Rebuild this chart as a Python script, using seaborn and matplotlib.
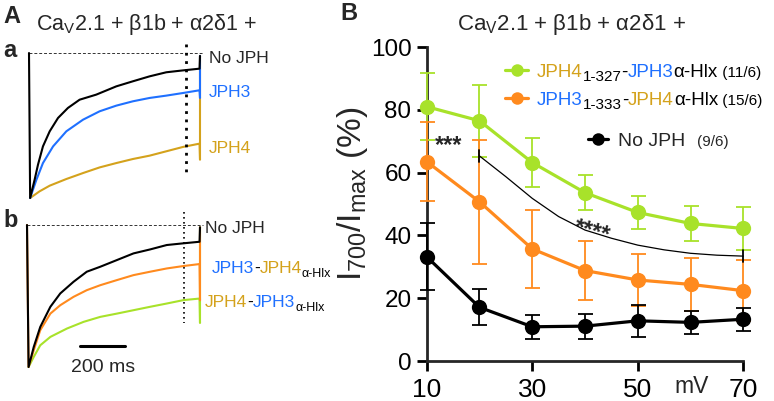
import matplotlib
matplotlib.use("Agg")
import matplotlib.pyplot as plt
import seaborn as sns

# ---- Panel A: current traces (time in ms, current normalised to peak) ----
a_black_t = [0, 5, 25, 40, 62, 92, 129, 173, 225, 299, 388, 462, 536, 610, 684, 758, 760]
a_black_i = [0, -1.0, -0.874, -0.770, -0.644, -0.540, -0.448, -0.379, -0.322, -0.287,
             -0.230, -0.195, -0.161, -0.133, -0.120, -0.108, -0.02]
a_blue_t = [5, 33, 62, 107, 166, 240, 314, 388, 462, 536, 610, 684, 758, 760, 760]
a_blue_i = [-1.0, -0.874, -0.759, -0.644, -0.540, -0.460, -0.402, -0.363, -0.333,
            -0.310, -0.294, -0.276, -0.257, -0.31, -0.02]
a_gold_t = [5, 47, 92, 166, 240, 314, 388, 462, 536, 610, 684, 758, 760, 760]
a_gold_i = [-1.0, -0.954, -0.915, -0.869, -0.828, -0.789, -0.759, -0.731, -0.708,
            -0.678, -0.648, -0.625, -0.736, -0.02]

b_black_t = [0, 7, 30, 59, 104, 148, 207, 266, 326, 400, 474, 548, 622, 696, 768, 770]
b_black_i = [0, -1.0, -0.859, -0.718, -0.576, -0.482, -0.400, -0.329, -0.294, -0.247,
             -0.200, -0.172, -0.141, -0.129, -0.118, -0.016]
b_orange_t = [0, 7, 30, 59, 104, 148, 207, 266, 326, 400, 474, 548, 622, 696, 768, 770, 770]
b_orange_i = [0, -1.0, -0.882, -0.741, -0.624, -0.565, -0.506, -0.459, -0.424, -0.388,
              -0.353, -0.329, -0.306, -0.289, -0.275, -0.53, -0.016]
b_green_t = [7, 30, 59, 104, 178, 252, 326, 400, 474, 548, 622, 696, 768, 770, 770]
b_green_i = [-1.0, -0.929, -0.847, -0.788, -0.729, -0.682, -0.647, -0.624, -0.600,
             -0.576, -0.553, -0.529, -0.518, -0.69, -0.016]

measure_ms = 700
scale_bar_ms = 200

# ---- Panel B: I700/Imax vs voltage ----
voltages = [10, 20, 30, 40, 50, 60, 70]
no_jph_mean = [33.2, 17.1, 10.9, 11.1, 12.8, 12.3, 13.3]
no_jph_err = [10.6, 5.7, 3.9, 4.0, 5.1, 3.6, 3.6]
jph3_jph4_mean = [63.5, 50.7, 35.7, 28.8, 25.8, 24.4, 22.4]
jph3_jph4_err = [12.5, 19.7, 12.4, 9.3, 8.4, 8.4, 9.7]
jph4_jph3_mean = [81.0, 76.5, 63.2, 53.6, 47.3, 43.8, 42.2]
jph4_jph3_err = [10.6, 11.4, 7.8, 5.5, 5.3, 5.6, 6.7]
sig_x = [20, 25, 30, 35, 40, 45, 50, 55, 60, 65, 70]
sig_y = [65.3, 58.7, 51.8, 46.0, 41.7, 39.1, 36.9, 35.4, 34.3, 33.7, 33.4]

GOLD = "#d4a21c"
BLUE = "#1f70ff"
ORANGE = "#ff8a1e"
LIME = "#a8e22a"

sns.set_style("ticks")
plt.rcParams['font.family'] = ['Liberation Sans', 'DejaVu Sans']
plt.rcParams['mathtext.default'] = 'regular'

W, H = 774, 401
fig = plt.figure(figsize=(W / 100, H / 100), dpi=100)


def px_axes(x0, y0, x1, y1, **kw):
    # axes from pixel box (left, top, right, bottom)
    return fig.add_axes([x0 / W, 1 - y1 / H, (x1 - x0) / W, (y1 - y0) / H], **kw)


def traces(ax, series, tmax, dot_lw, dot_top, dot_bottom):
    for t, i, c in series:
        sns.lineplot(x=t, y=i, ax=ax, color=c, lw=1.5, estimator=None, sort=False)
    ax.plot([0, tmax + 15], [0, 0], color="#333333", lw=0.7, ls=(0, (3, 2)), zorder=0)
    ax.plot([measure_ms, measure_ms], [dot_top, dot_bottom], color="black",
            lw=dot_lw, ls=(0, (1, 2)))
    ax.set_xlim(0, tmax)
    ax.set_ylim(-1, 0)
    for ln in ax.lines:
        ln.set_clip_on(False)
    ax.axis("off")


# panel A-a
ax_a = px_axes(29, 53, 200, 198)
traces(ax_a, [(a_gold_t, a_gold_i, GOLD), (a_blue_t, a_blue_i, BLUE),
              (a_black_t, a_black_i, "black")], 760, 2.0, 0.06, -0.83)

# panel A-b
ax_b = px_axes(27, 225, 200, 367)
traces(ax_b, [(b_green_t, b_green_i, LIME), (b_orange_t, b_orange_i, ORANGE),
              (b_black_t, b_black_i, "black")], 770, 1.2, 0.09, -0.69)
bar_start = 236
ax_b.plot([bar_start, bar_start + scale_bar_ms], [-0.852, -0.852], color="black",
          lw=2.2, clip_on=False)

# panel B
ax = px_axes(426.7, 47, 743.3, 361)
series = [(jph4_jph3_mean, jph4_jph3_err, LIME),
          (jph3_jph4_mean, jph3_jph4_err, ORANGE),
          (no_jph_mean, no_jph_err, "black")]
for k, (m, e, c) in enumerate(series):
    ax.errorbar(voltages, m, yerr=e, fmt="none", ecolor=c, elinewidth=1.3,
                capsize=5.4, capthick=1.3, zorder=3 + 2 * k)
    sns.lineplot(x=voltages, y=m, ax=ax, color=c, lw=2.3, marker="o",
                 markersize=11, markeredgewidth=0, zorder=4 + 2 * k)
sns.lineplot(x=sig_x, y=sig_y, ax=ax, color="black", lw=0.9, zorder=10)
for sx, sy in [(sig_x[0], sig_y[0]), (sig_x[-1], sig_y[-1])]:
    ax.plot([sx, sx], [sy - 2, sy + 2], color="black", lw=1.3, zorder=10)
ax.text(14.2, 66.5, "***", fontsize=17, weight="bold", ha="center", va="baseline")
ax.text(41, 39.3, "****", fontsize=17, weight="bold", ha="center", va="baseline",
        rotation=-15, rotation_mode="anchor")
for art in ax.lines + ax.collections:
    art.set_clip_on(False)
ax.set_xlim(10, 70)
ax.set_ylim(0, 100)
ax.set_xticks([10, 30, 50, 70])
ax.set_yticks([0, 20, 40, 60, 80, 100])
sns.despine(ax=ax)
for sp in ax.spines.values():
    sp.set_linewidth(2.0)
ax.tick_params(length=7, width=2.0, colors="black")
ax.tick_params(axis="x", pad=5.5, labelsize=19)
ax.tick_params(axis="y", pad=4, labelsize=17.5)

# ---- overlay for all free text, pixel coordinates ----
ov = fig.add_axes([0, 0, 1, 1], zorder=20)
ov.set_xlim(0, W)
ov.set_ylim(H, 0)
ov.axis("off")


def colored(x, y, parts):
    # parts: (text, colour, size, baseline shift in points)
    s, c, fs, dy = parts[0]
    prev = ov.annotate(s, xy=(x, y), xytext=(0, dy), textcoords="offset points",
                       color=c, fontsize=fs, va="baseline", ha="left")
    for s, c, fs, dy in parts[1:]:
        prev = ov.annotate(s, xy=(1, y), xycoords=(prev, "data"), xytext=(0, dy),
                           textcoords="offset points", color=c, fontsize=fs,
                           va="baseline", ha="left")


title = "Ca$_V$2.1 + β1b + α2δ1 +"
ov.text(3, 23, "A", fontsize=17, weight="bold", va="baseline")
ov.text(36, 30, title, fontsize=15.5, va="baseline")
ov.text(340, 20, "B", fontsize=17, weight="bold", va="baseline")
ov.text(571, 30, title, fontsize=16, va="baseline", ha="center")
ov.text(3, 57, "a", fontsize=17, weight="bold", va="baseline")
ov.text(3, 227, "b", fontsize=17, weight="bold", va="baseline")

ov.text(209, 62.7, "No JPH", fontsize=12.5, va="baseline")
ov.text(209, 97, "JPH3", fontsize=12.5, color=BLUE, va="baseline")
ov.text(209, 153, "JPH4", fontsize=12.5, color=GOLD, va="baseline")
ov.text(205, 233, "No JPH", fontsize=12.5, va="baseline")
colored(211.7, 273.3, [("JPH3", BLUE, 12.5, 0), ("-", "black", 12.5, 0),
                       ("JPH4", GOLD, 12.5, 0), ("α-Hlx", "black", 9, -3)])
colored(205, 307.3, [("JPH4", GOLD, 12.5, 0), ("-", "black", 12.5, 0),
                     ("JPH3", BLUE, 12.5, 0), ("α-Hlx", "black", 9, -3)])
ov.text(103, 372, "200 ms", fontsize=14, ha="center", va="baseline")

# legend of panel B
for y, c in [(70, LIME), (98, ORANGE)]:
    ov.plot([505, 517, 528], [y, y, y], color=c, lw=2.3, marker="o", markersize=9,
            markeredgewidth=0, markevery=[1])
ov.plot([588, 598, 608], [139, 139, 139], color="black", lw=2.3, marker="o",
        markersize=9, markeredgewidth=0, markevery=[1])
colored(537, 76.7, [("JPH4", GOLD, 13.5, 0), ("1-327", "black", 11, -3),
                    ("-", "black", 13.5, 0), ("JPH3", BLUE, 13.5, 0),
                    ("α-Hlx", "black", 13.5, 0), (" (11/6)", "black", 11, 0)])
colored(537, 105, [("JPH3", BLUE, 13.5, 0), ("1-333", "black", 11, -3),
                   ("-", "black", 13.5, 0), ("JPH4", GOLD, 13.5, 0),
                   ("α-Hlx", "black", 13.5, 0), (" (15/6)", "black", 11, 0)])
ov.text(618, 146, "No JPH", fontsize=14, va="baseline")
ov.text(697, 146, "(9/6)", fontsize=11, va="baseline")

ov.text(692, 393, "mV", fontsize=16.5, ha="center", va="baseline")
ov.text(361, 194, "I$_{700}$/I$_{max}$ (%)", fontsize=24, rotation=90,
        rotation_mode="anchor", ha="center", va="baseline")

fig.savefig("out.png", dpi=100)
